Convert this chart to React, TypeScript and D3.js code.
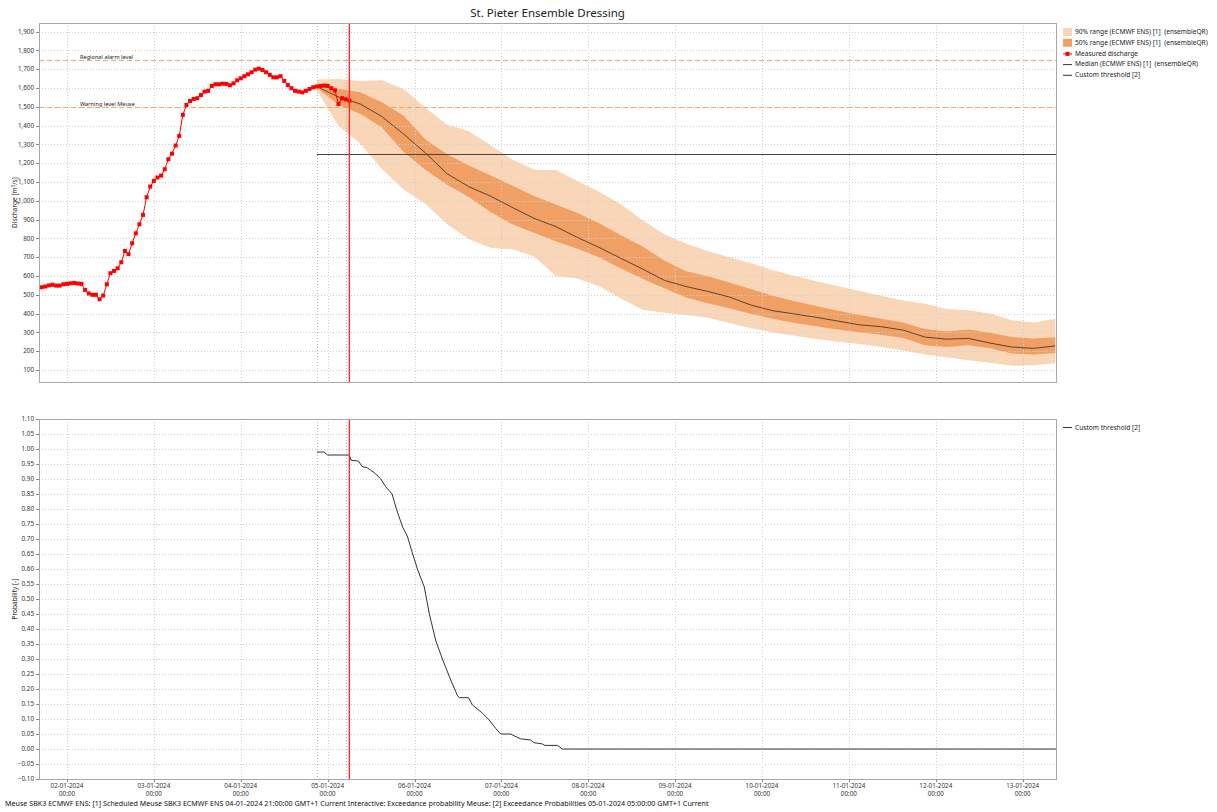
import { useEffect, useRef } from "react"
import * as d3 from "d3"

// ---- data (hours relative to 02-01-2024 00:00) ----
const measuredStartHour = -7
const measuredValues = [
  540, 544, 550, 553, 549, 549, 556, 558, 561, 563, 560, 558, 526, 507, 500, 500, 476, 496, 556, 615,
  627, 641, 673, 733, 716, 774, 827, 875, 925, 1019, 1076, 1106, 1124, 1134, 1168, 1221, 1251, 1294, 1345, 1457,
  1510, 1531, 1542, 1546, 1563, 1581, 1585, 1611, 1620, 1620, 1623, 1622, 1615, 1625, 1641, 1652, 1663, 1673, 1684, 1698,
  1703, 1696, 1684, 1670, 1657, 1657, 1663, 1638, 1616, 1599, 1585, 1581, 1577, 1585, 1595, 1604, 1608, 1611, 1613, 1611,
  1599, 1588, 1515, 1546, 1540, 1533,
]

const forecastHours = [
  69, 75, 81, 87, 93, 99, 105, 111, 117, 123, 129, 135, 141, 147, 153, 159, 165, 171, 177, 183,
  189, 195, 201, 207, 213, 219, 225, 231, 237, 243, 249, 255, 261, 267, 273,
]
const p95 = [
  1645, 1648, 1638, 1642, 1595, 1495, 1405, 1370, 1295, 1220, 1165, 1164, 1106, 1048, 982, 896, 822, 773, 732, 700,
  668, 630, 600, 572, 545, 520, 495, 470, 452, 425, 418, 400, 365, 352, 372,
]
const p75 = [
  1612, 1595, 1578, 1525, 1452, 1326, 1248, 1188, 1134, 1082, 1025, 981, 935, 880, 817, 757, 682, 625, 598, 565,
  530, 495, 465, 440, 415, 393, 372, 352, 318, 305, 315, 298, 275, 268, 274,
]
const median = [
  1608, 1552, 1515, 1448, 1355, 1255, 1144, 1075, 1025, 965, 907, 863, 805, 752, 694, 637, 577, 544, 518, 488,
  445, 415, 398, 380, 360, 340, 330, 312, 275, 264, 268, 243, 222, 215, 228,
]
const p25 = [
  1602, 1511, 1463, 1390, 1260, 1165, 1085, 1020, 940, 875, 830, 785, 745, 700, 640, 585, 535, 485, 455, 428,
  398, 372, 350, 332, 315, 300, 287, 270, 232, 222, 232, 215, 188, 182, 190,
]
const p5 = [
  1590, 1398, 1305, 1168, 1060, 985, 875, 795, 750, 742, 705, 600, 586, 545, 480, 420, 405, 393, 378, 350,
  322, 300, 282, 265, 250, 238, 222, 203, 182, 168, 152, 138, 122, 125, 136,
]

const probHours = [
  69, 71, 72, 78, 78.5, 80.5, 81.5, 83, 85, 86.7, 88, 89.8, 91, 92.7, 94, 95.5, 96.8, 98.7, 100.1, 101.9,
  103.7, 106, 107.9, 108.5, 110.9, 112, 114.8, 116.6, 118.4, 119.8, 122.6, 123.5, 125.3, 128.1, 129, 131.3,
  132, 135.5, 136.8, 273.2,
]
const probValues = [
  0.99, 0.99, 0.98, 0.98, 0.962, 0.96, 0.942, 0.937, 0.92, 0.9, 0.875, 0.85, 0.8, 0.74, 0.71, 0.65, 0.6, 0.54, 0.45, 0.36,
  0.3, 0.23, 0.177, 0.171, 0.171, 0.147, 0.119, 0.097, 0.069, 0.05, 0.05, 0.044, 0.034, 0.03, 0.021, 0.017,
  0.012, 0.012, 0, 0,
]

const dischargeTicks = [100, 200, 300, 400, 500, 600, 700, 800, 900, 1000, 1100, 1200, 1300, 1400, 1500, 1600, 1700, 1800, 1900]
const probTicks = [
  -0.1, -0.05, 0, 0.05, 0.1, 0.15, 0.2, 0.25, 0.3, 0.35, 0.4, 0.45, 0.5, 0.55, 0.6, 0.65, 0.7, 0.75, 0.8, 0.85,
  0.9, 0.95, 1.0, 1.05, 1.1,
]
const dayTickHours = [0, 24, 48, 72, 96, 120, 144, 168, 192, 216, 240, 264]

const levels = [
  { value: 1750, label: "Regional alarm level" },
  { value: 1500, label: "Warning level Meuse" },
]
const customThreshold = 1250
const forecastStartHour = 69
const probStartHour = 77
const nowHour = 78

const legendTop = [
  { label: "90% range (ECMWF ENS) [1]  (ensembleQR)", kind: "band90" },
  { label: "50% range (ECMWF ENS) [1]  (ensembleQR)", kind: "band50" },
  { label: "Measured discharge", kind: "measured" },
  { label: "Median (ECMWF ENS) [1]  (ensembleQR)", kind: "median" },
  { label: "Custom threshold [2]", kind: "threshold" },
]

const footer =
  "Meuse SBK3 ECMWF ENS: [1] Scheduled Meuse SBK3 ECMWF ENS 04-01-2024 21:00:00 GMT+1 Current Interactive: Exceedance probability Meuse: [2] Exceedance Probabilities 05-01-2024 05:00:00 GMT+1 Current"

const FONT = "'Noto Sans', 'Open Sans', sans-serif"
const C_LIGHT = "#fad6b8"
const C_DARK = "#f0a064"
const C_LEVEL = "#f2a262"
const C_GRID = "#cfcfcf"
const C_NOW = "#ff2a2a"

export default function App() {
  const svgRef = useRef<SVGSVGElement>(null)

  useEffect(() => {
    if (!svgRef.current) return
    const root = d3.select(svgRef.current)
    root.selectAll("*").remove()

    const left = 39
    const right = 1056
    const top1 = 23
    const bot1 = 382
    const top2 = 419
    const bot2 = 779

    const base = new Date(2024, 0, 2, 0, 0).getTime()
    const toDate = (h: number) => new Date(base + h * 3600 * 1000)

    const x = d3.scaleTime().domain([toDate(-7.73), toDate(273.2)]).range([left, right])
    const y1 = d3.scaleLinear().domain([36, 1946]).range([bot1, top1])
    const y2 = d3.scaleLinear().domain([-0.1, 1.1]).range([bot2, top2])
    const xc = (h: number) => Math.round(x(toDate(h))) + 0.5

    root.append("rect").attr("width", 1217).attr("height", 812).attr("fill", "#fff")

    const defs = root.append("defs")
    defs.append("clipPath").attr("id", "clip1").append("rect")
      .attr("x", left).attr("y", top1).attr("width", right - left).attr("height", bot1 - top1)
    defs.append("clipPath").attr("id", "clip2").append("rect")
      .attr("x", left).attr("y", top2).attr("width", right - left).attr("height", bot2 - top2)

    // title
    root.append("text")
      .attr("x", (left + right) / 2).attr("y", 17)
      .attr("text-anchor", "middle")
      .style("font-family", FONT).style("font-size", "11.5px").style("fill", "#222")
      .text("St. Pieter Ensemble Dressing")

    // ---------- top panel ----------
    const g1 = root.append("g")
    const p1 = g1.append("g").attr("clip-path", "url(#clip1)")

    const fc = forecastHours.map((h, i) => ({
      t: toDate(h), p5: p5[i], p25: p25[i], med: median[i], p75: p75[i], p95: p95[i],
    }))

    p1.append("path").datum(fc)
      .attr("d", d3.area<any>().x((d) => x(d.t)).y0((d) => y1(d.p5)).y1((d) => y1(d.p95)))
      .attr("fill", C_LIGHT)
    p1.append("path").datum(fc)
      .attr("d", d3.area<any>().x((d) => x(d.t)).y0((d) => y1(d.p25)).y1((d) => y1(d.p75)))
      .attr("fill", C_DARK)

    // grid
    p1.selectAll(".hg").data(dischargeTicks).enter().append("line")
      .attr("x1", left).attr("x2", right)
      .attr("y1", (d) => Math.round(y1(d)) + 0.5).attr("y2", (d) => Math.round(y1(d)) + 0.5)
      .attr("stroke", C_GRID).attr("stroke-dasharray", "1,2")
    p1.selectAll(".vg").data(dayTickHours).enter().append("line")
      .attr("x1", (d) => xc(d)).attr("x2", (d) => xc(d))
      .attr("y1", top1).attr("y2", bot1)
      .attr("stroke", C_GRID).attr("stroke-dasharray", "1,2")
    p1.selectAll(".mg").data([forecastStartHour, probStartHour]).enter().append("line")
      .attr("x1", (d) => xc(d)).attr("x2", (d) => xc(d))
      .attr("y1", top1).attr("y2", bot1)
      .attr("stroke", "#b8b8b8").attr("stroke-dasharray", "1,2")

    // alarm levels
    levels.forEach((lv) => {
      p1.append("line")
        .attr("x1", left).attr("x2", right)
        .attr("y1", Math.round(y1(lv.value)) + 0.5).attr("y2", Math.round(y1(lv.value)) + 0.5)
        .attr("stroke", C_LEVEL).attr("stroke-width", 1).attr("stroke-dasharray", "5,3")
      p1.append("text")
        .attr("x", 80).attr("y", y1(lv.value) - 1.2)
        .style("font-family", FONT).style("font-size", "5.6px").style("fill", "#222")
        .text(lv.label)
    })

    // median
    p1.append("path").datum(fc)
      .attr("d", d3.line<any>().x((d) => x(d.t)).y((d) => y1(d.med)))
      .attr("fill", "none").attr("stroke", "#3a2a20").attr("stroke-width", 0.8)

    // custom threshold
    p1.append("line")
      .attr("x1", x(toDate(forecastStartHour))).attr("x2", right)
      .attr("y1", Math.round(y1(customThreshold)) + 0.5).attr("y2", Math.round(y1(customThreshold)) + 0.5)
      .attr("stroke", "#444").attr("stroke-width", 1)

    // measured
    const meas = measuredValues.map((v, i) => ({ t: toDate(measuredStartHour + i), v }))
    p1.append("path").datum(meas)
      .attr("d", d3.line<any>().x((d) => x(d.t)).y((d) => y1(d.v)))
      .attr("fill", "none").attr("stroke", "#ff0000").attr("stroke-width", 1)
    p1.selectAll(".mk").data(meas).enter().append("rect")
      .attr("x", (d) => x(d.t) - 2).attr("y", (d) => y1(d.v) - 2)
      .attr("width", 4).attr("height", 4).attr("fill", "#ff0000")

    // now line
    p1.append("line")
      .attr("x1", x(toDate(nowHour))).attr("x2", x(toDate(nowHour)))
      .attr("y1", top1).attr("y2", bot1)
      .attr("stroke", C_NOW).attr("stroke-width", 1.4)

    g1.append("rect")
      .attr("x", left + 0.5).attr("y", top1 + 0.5).attr("width", right - left).attr("height", bot1 - top1)
      .attr("fill", "none").attr("stroke", "#a8a8a8")

    // y axis top
    g1.selectAll(".yt").data(dischargeTicks).enter().append("line")
      .attr("x1", left - 3).attr("x2", left)
      .attr("y1", (d) => Math.round(y1(d)) + 0.5).attr("y2", (d) => Math.round(y1(d)) + 0.5)
      .attr("stroke", "#888")
    g1.selectAll(".yl").data(dischargeTicks).enter().append("text")
      .attr("x", left - 5).attr("y", (d) => y1(d) + 2.2)
      .attr("text-anchor", "end")
      .style("font-family", FONT).style("font-size", "6.3px").style("fill", "#333")
      .text((d) => d3.format(",")(d))

    const yl1 = g1.append("text")
      .attr("transform", `translate(17,${(top1 + bot1) / 2}) rotate(-90)`)
      .attr("text-anchor", "middle")
      .style("font-family", FONT).style("font-size", "6.5px").style("fill", "#222")
    yl1.append("tspan").text("Discharge [m")
    yl1.append("tspan").attr("dy", -2).style("font-size", "4.5px").text("3")
    yl1.append("tspan").attr("dy", 2).text("/s]")

    // legend top
    legendTop.forEach((item, i) => {
      const ly = 32 + i * 10.7
      const lg = root.append("g")
      if (item.kind === "band90" || item.kind === "band50") {
        lg.append("rect").attr("x", 1063).attr("y", ly - 4).attr("width", 9).attr("height", 8)
          .attr("fill", item.kind === "band90" ? C_LIGHT : C_DARK)
      } else {
        lg.append("line").attr("x1", 1063).attr("x2", 1072).attr("y1", ly + 0.5).attr("y2", ly + 0.5)
          .attr("stroke", item.kind === "measured" ? "#ff0000" : "#333").attr("stroke-width", 1)
        if (item.kind === "measured") {
          lg.append("rect").attr("x", 1065.5).attr("y", ly - 1.5).attr("width", 4).attr("height", 4).attr("fill", "#ff0000")
        }
      }
      lg.append("text").attr("x", 1075).attr("y", ly + 2.3)
        .style("font-family", FONT).style("font-size", "6.6px").style("fill", "#222")
        .style("white-space", "pre")
        .text(item.label)
    })

    // ---------- bottom panel ----------
    const g2 = root.append("g")
    const p2 = g2.append("g").attr("clip-path", "url(#clip2)")

    p2.selectAll(".hg").data(probTicks).enter().append("line")
      .attr("x1", left).attr("x2", right)
      .attr("y1", (d) => Math.round(y2(d)) + 0.5).attr("y2", (d) => Math.round(y2(d)) + 0.5)
      .attr("stroke", C_GRID).attr("stroke-dasharray", "1,2")
    p2.selectAll(".vg").data(dayTickHours).enter().append("line")
      .attr("x1", (d) => xc(d)).attr("x2", (d) => xc(d))
      .attr("y1", top2).attr("y2", bot2)
      .attr("stroke", C_GRID).attr("stroke-dasharray", "1,2")
    p2.selectAll(".mg").data([forecastStartHour, probStartHour]).enter().append("line")
      .attr("x1", (d) => xc(d)).attr("x2", (d) => xc(d))
      .attr("y1", top2).attr("y2", bot2)
      .attr("stroke", "#b8b8b8").attr("stroke-dasharray", "1,2")

    const prob = probHours.map((h, i) => ({ t: toDate(h), v: probValues[i] }))
    p2.append("path").datum(prob)
      .attr("d", d3.line<any>().x((d) => x(d.t)).y((d) => y2(d.v)))
      .attr("fill", "none").attr("stroke", "#333").attr("stroke-width", 1)

    p2.append("line")
      .attr("x1", x(toDate(nowHour))).attr("x2", x(toDate(nowHour)))
      .attr("y1", top2).attr("y2", bot2)
      .attr("stroke", C_NOW).attr("stroke-width", 1.4)

    g2.append("rect")
      .attr("x", left + 0.5).attr("y", top2 + 0.5).attr("width", right - left).attr("height", bot2 - top2)
      .attr("fill", "none").attr("stroke", "#a8a8a8")

    g2.selectAll(".yt").data(probTicks).enter().append("line")
      .attr("x1", left - 3).attr("x2", left)
      .attr("y1", (d) => Math.round(y2(d)) + 0.5).attr("y2", (d) => Math.round(y2(d)) + 0.5)
      .attr("stroke", "#888")
    g2.selectAll(".yl").data(probTicks).enter().append("text")
      .attr("x", left - 5).attr("y", (d) => y2(d) + 2.2)
      .attr("text-anchor", "end")
      .style("font-family", FONT).style("font-size", "6.3px").style("fill", "#333")
      .text((d) => d3.format(".2f")(d))

    g2.append("text")
      .attr("transform", `translate(17,${(top2 + bot2) / 2}) rotate(-90)`)
      .attr("text-anchor", "middle")
      .style("font-family", FONT).style("font-size", "6.5px").style("fill", "#222")
      .text("Probability [-]")

    // x axis
    g2.selectAll(".xt").data(dayTickHours).enter().append("line")
      .attr("x1", (d) => xc(d)).attr("x2", (d) => xc(d))
      .attr("y1", bot2).attr("y2", bot2 + 3)
      .attr("stroke", "#888")
    const xl = g2.selectAll(".xl").data(dayTickHours).enter().append("text")
      .attr("text-anchor", "middle")
      .style("font-family", FONT).style("font-size", "6.3px").style("fill", "#333")
    xl.append("tspan").attr("x", (d) => x(toDate(d))).attr("y", 787.5)
      .text((d) => d3.timeFormat("%d-%m-%Y")(toDate(d)))
    xl.append("tspan").attr("x", (d) => x(toDate(d))).attr("y", 795.5)
      .text((d) => d3.timeFormat("%H:%M")(toDate(d)))

    // bottom legend
    root.append("line").attr("x1", 1063).attr("x2", 1072).attr("y1", 427.5).attr("y2", 427.5)
      .attr("stroke", "#333")
    root.append("text").attr("x", 1075).attr("y", 429.5)
      .style("font-family", FONT).style("font-size", "6.6px").style("fill", "#222")
      .text("Custom threshold [2]")

    // footer
    root.append("text").attr("x", 5).attr("y", 806)
      .style("font-family", FONT).style("font-size", "7.15px").style("fill", "#111")
      .text(footer)
  }, [])

  return (
    <svg
      ref={svgRef}
      width={1217}
      height={812}
      style={{ position: "absolute", left: 0, top: 0, display: "block" }}
    ></svg>
  )
}
